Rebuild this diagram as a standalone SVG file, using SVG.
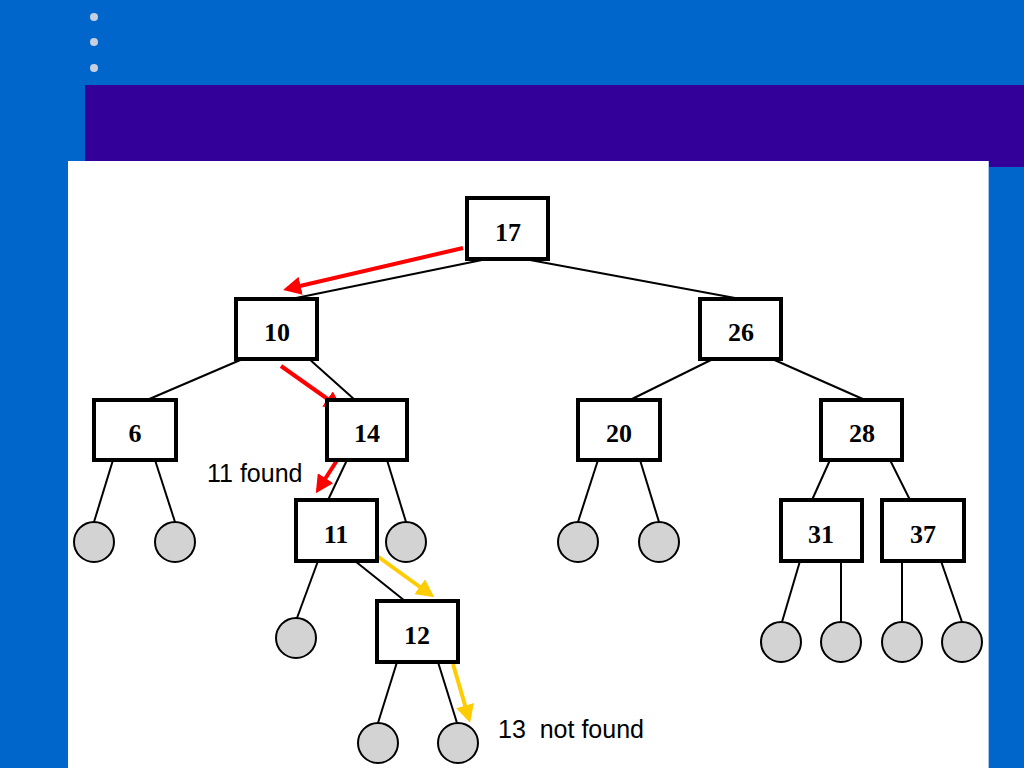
<svg xmlns="http://www.w3.org/2000/svg" width="1024" height="768" viewBox="0 0 1024 768">
<style>
.box{fill:#fff;stroke:#000;stroke-width:4}
.num{font-family:"Liberation Serif",serif;font-weight:bold;font-size:26px;text-anchor:middle;fill:#000}
.leaf{fill:#d3d3d3;stroke:#000;stroke-width:2}
.edge{stroke:#000;stroke-width:2;fill:none}
.red{stroke:#ff0000;stroke-width:4;fill:none;marker-end:url(#rh)}
.yel{stroke:#ffcc00;stroke-width:4;fill:none;marker-end:url(#yh)}
.lbl{font-family:"Liberation Sans",Arial,sans-serif;font-size:25px;fill:#000}
</style>
<defs>
<marker id="rh" markerWidth="4.5" markerHeight="4.6" refX="3.5" refY="2.3" orient="auto" markerUnits="strokeWidth"><path d="M0,0 L4.5,2.3 L0,4.6 z" fill="#ff0000"/></marker>
<marker id="yh" markerWidth="4.5" markerHeight="4.6" refX="3.5" refY="2.3" orient="auto" markerUnits="strokeWidth"><path d="M0,0 L4.5,2.3 L0,4.6 z" fill="#ffcc00"/></marker>
</defs>
<g id="background">
<rect width="1024" height="768" fill="#0066cc"/>
<circle cx="94" cy="17" r="4" fill="#c8cfe0"/>
<circle cx="94" cy="42" r="4" fill="#c8cfe0"/>
<circle cx="94" cy="68" r="4" fill="#c8cfe0"/>
<rect x="85" y="85" width="939" height="82" fill="#330099"/>
<rect x="68" y="161" width="920" height="607" fill="#fff"/>
<line x1="988.5" y1="161" x2="988.5" y2="768" stroke="#a8c8f0" stroke-width="1"/>
</g>
<g id="connectors">
<line class="edge" x1="482" y1="260" x2="296" y2="298"/>
<line class="edge" x1="530" y1="260" x2="735" y2="298"/>
<line class="edge" x1="245" y1="358" x2="147" y2="400"/>
<line class="edge" x1="308" y1="358" x2="355" y2="400"/>
<line class="edge" x1="715" y1="358" x2="630" y2="400"/>
<line class="edge" x1="770" y1="358" x2="865" y2="400"/>
<line class="edge" x1="113" y1="460" x2="94" y2="522"/>
<line class="edge" x1="155" y1="460" x2="175" y2="522"/>
<line class="edge" x1="347" y1="460" x2="328" y2="500"/>
<line class="edge" x1="387" y1="460" x2="406" y2="522"/>
<line class="edge" x1="598" y1="460" x2="578" y2="522"/>
<line class="edge" x1="640" y1="460" x2="659" y2="522"/>
<line class="edge" x1="830" y1="460" x2="812" y2="500"/>
<line class="edge" x1="890" y1="460" x2="910" y2="500"/>
<line class="edge" x1="318" y1="561" x2="297" y2="618"/>
<line class="edge" x1="355" y1="561" x2="405" y2="601"/>
<line class="edge" x1="800" y1="561" x2="782" y2="622"/>
<line class="edge" x1="841" y1="561" x2="841" y2="622"/>
<line class="edge" x1="902" y1="561" x2="902" y2="622"/>
<line class="edge" x1="941" y1="561" x2="962" y2="622"/>
<line class="edge" x1="397" y1="662" x2="378" y2="723"/>
<line class="edge" x1="438" y1="662" x2="457" y2="723"/>
<line class="red" x1="463" y1="248" x2="287" y2="289"/>
<line class="red" x1="281" y1="366" x2="339" y2="407"/>
<line class="red" x1="343" y1="451" x2="318" y2="490"/>
<line class="yel" x1="373" y1="553" x2="431" y2="595"/>
<line class="yel" x1="453" y1="664" x2="469" y2="719"/>
</g>
<g id="n17"><rect class="box" x="467" y="198" width="81" height="61"/><text class="num" x="508" y="241">17</text></g>
<g id="n10"><rect class="box" x="236" y="299" width="81" height="60"/><text class="num" x="277" y="341">10</text></g>
<g id="n26"><rect class="box" x="700" y="299" width="81" height="60"/><text class="num" x="741" y="341">26</text></g>
<g id="n6"><rect class="box" x="94" y="400" width="82" height="60"/><text class="num" x="135" y="442">6</text></g>
<g id="n14"><rect class="box" x="327" y="400" width="80" height="60"/><text class="num" x="367" y="442">14</text></g>
<g id="n20"><rect class="box" x="578" y="400" width="82" height="60"/><text class="num" x="619" y="442">20</text></g>
<g id="n28"><rect class="box" x="821" y="400" width="81" height="60"/><text class="num" x="862" y="442">28</text></g>
<g id="n11"><rect class="box" x="296" y="500" width="81" height="61"/><text class="num" x="336" y="543">11</text></g>
<g id="n31"><rect class="box" x="781" y="500" width="81" height="61"/><text class="num" x="821" y="543">31</text></g>
<g id="n37"><rect class="box" x="882" y="500" width="82" height="61"/><text class="num" x="923" y="543">37</text></g>
<g id="n12"><rect class="box" x="377" y="601" width="81" height="61"/><text class="num" x="417" y="644">12</text></g>
<g id="leaves">
<circle class="leaf" cx="94" cy="542" r="20"/>
<circle class="leaf" cx="175" cy="542" r="20"/>
<circle class="leaf" cx="406" cy="542" r="20"/>
<circle class="leaf" cx="578" cy="542" r="20"/>
<circle class="leaf" cx="659" cy="542" r="20"/>
<circle class="leaf" cx="296" cy="638" r="20"/>
<circle class="leaf" cx="781" cy="642" r="20"/>
<circle class="leaf" cx="841" cy="642" r="20"/>
<circle class="leaf" cx="902" cy="642" r="20"/>
<circle class="leaf" cx="962" cy="642" r="20"/>
<circle class="leaf" cx="378" cy="743" r="20"/>
<circle class="leaf" cx="458" cy="743" r="20"/>
</g>
<g id="labels">
<text class="lbl" x="207" y="482">11 found</text>
<text class="lbl" x="498" y="738" xml:space="preserve">13  not found</text>
</g>
</svg>
